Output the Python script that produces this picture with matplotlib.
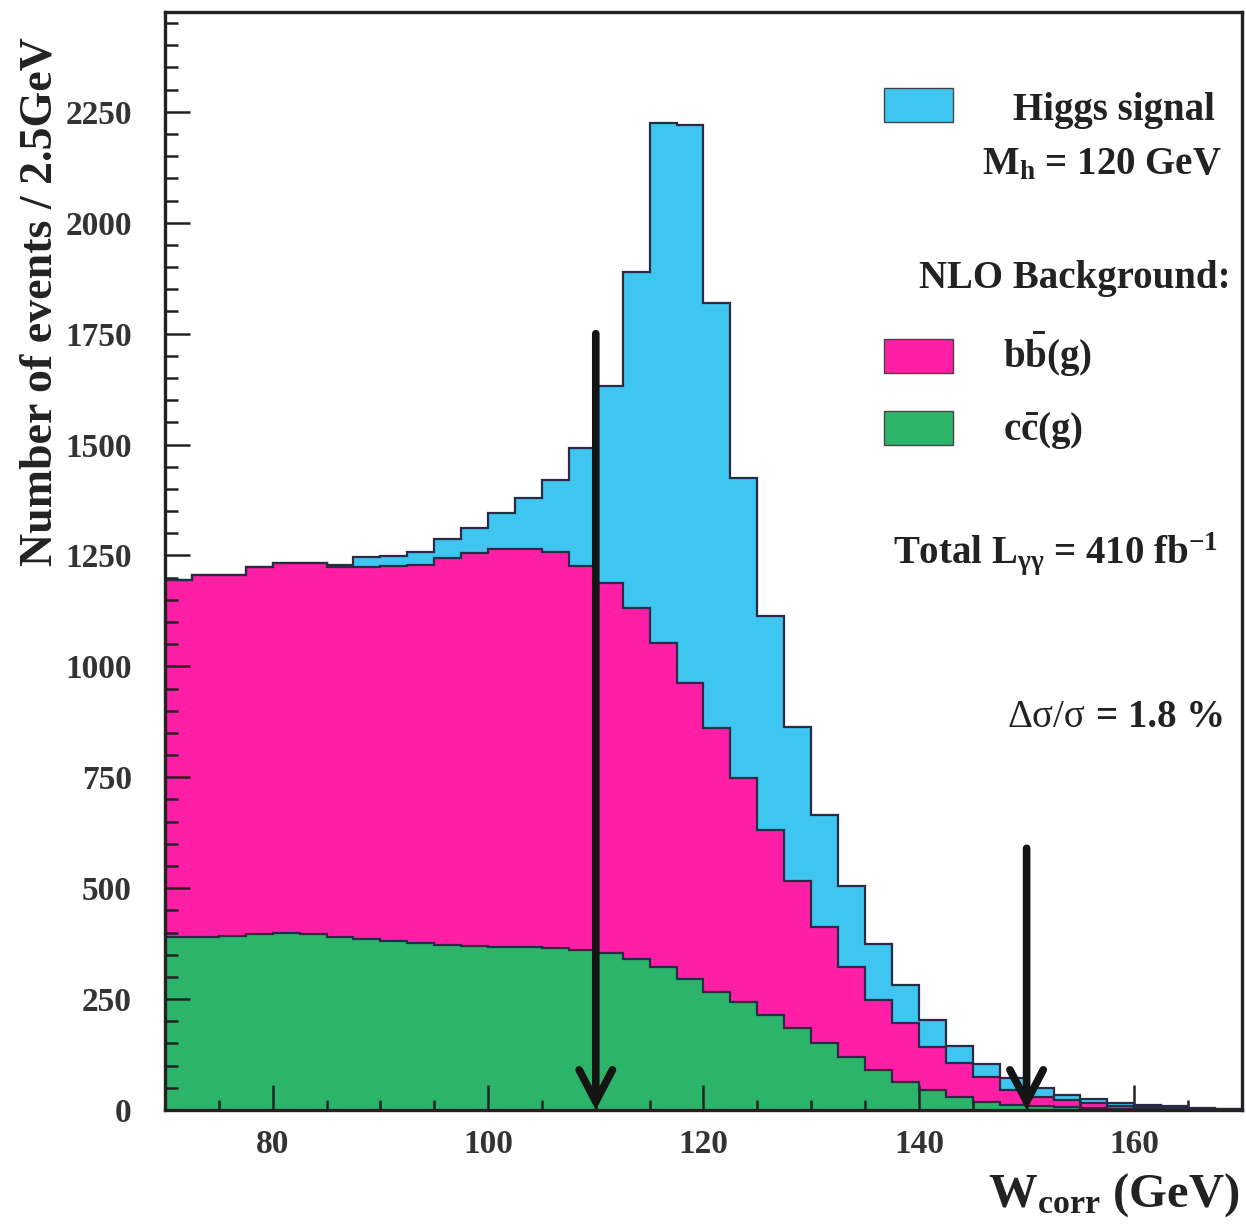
import matplotlib
matplotlib.use("Agg")
import matplotlib.pyplot as plt
import numpy as np
from matplotlib.patches import Rectangle
from matplotlib.ticker import MultipleLocator

plt.rcParams["font.family"] = ["Liberation Serif", "DejaVu Serif"]
plt.rcParams["font.weight"] = "bold"
plt.rcParams["mathtext.fontset"] = "custom"
plt.rcParams["mathtext.rm"] = "Liberation Serif:bold"
plt.rcParams["mathtext.it"] = "Liberation Serif:bold"
plt.rcParams["mathtext.bf"] = "Liberation Serif:bold"

# 2.5 GeV bins from 70 to 170 GeV
BIN_LOW = 70.0
BIN_WIDTH = 2.5

# events per bin for each process
cc_bkg = [390, 390, 392, 397, 399, 397, 390, 386, 380, 376,
          372, 370, 368, 367, 365, 360, 354, 340, 322, 295,
          266, 243, 214, 185, 151, 120, 90, 63, 45, 30,
          18, 11, 8, 6, 4, 3, 2, 1, 1, 1]
bb_bkg = [805, 816, 814, 827, 834, 836, 834, 838, 846, 853,
          872, 886, 897, 898, 893, 866, 834, 792, 731, 668,
          595, 505, 417, 332, 262, 202, 158, 133, 97, 76,
          57, 34, 22, 16, 11, 7, 5, 4, 2, 1]
higgs = [0, 0, 0, 0, 0, 0, 4, 23, 23, 29,
         43, 56, 81, 115, 162, 266, 444, 757, 1172, 1258,
         958, 677, 483, 346, 252, 183, 126, 86, 61, 38,
         29, 27, 20, 12, 9, 6, 4, 3, 2, 1]

# mass window cuts
cut_low, cut_low_top = 110, 1750
cut_high, cut_high_top = 150, 590

BLUE = "#3ec6f0"
PINK = "#ff1fa6"
GREEN = "#2db46b"
EDGE = "#2a2a45"

cc = np.array(cc_bkg, dtype=float)
bb = np.array(bb_bkg, dtype=float)
sig = np.array(higgs, dtype=float)
edges = BIN_LOW + BIN_WIDTH * np.arange(len(cc) + 1)
lvl1 = cc
lvl2 = cc + bb
lvl3 = cc + bb + sig

fig = plt.figure(figsize=(12.46, 12.26), dpi=100)
ax = fig.add_axes([0.1324, 0.0946, 0.8644, 0.8956])

ax.stairs(lvl1, edges, baseline=0, fill=True, color=GREEN, zorder=1)
ax.stairs(lvl2, edges, baseline=lvl1, fill=True, color=PINK, zorder=1)
ax.stairs(lvl3, edges, baseline=lvl2, fill=True, color=BLUE, zorder=1)
for lvl in (lvl1, lvl2, lvl3):
    ax.stairs(lvl, edges, baseline=None, color=EDGE, lw=1.6, zorder=2)

for xc, ytop in ((cut_low, cut_low_top), (cut_high, cut_high_top)):
    ax.annotate("", xy=(xc, 0), xytext=(xc, ytop),
                arrowprops=dict(arrowstyle="->,head_length=1.15,head_width=0.6",
                                lw=5.5, color="#141414", shrinkA=0, shrinkB=0,
                                mutation_scale=20, joinstyle="miter"),
                zorder=4)

ax.set_xlim(70, 170)
ax.set_ylim(0, 2475)
ax.xaxis.set_major_locator(MultipleLocator(20))
ax.xaxis.set_minor_locator(MultipleLocator(5))
ax.yaxis.set_major_locator(MultipleLocator(250))
ax.yaxis.set_minor_locator(MultipleLocator(50))
ax.tick_params(which="both", direction="in", top=False, right=False, width=1.8, color="#222")
ax.tick_params(which="major", length=18)
ax.tick_params(which="minor", length=9)
ax.tick_params(axis="x", which="minor", length=7)
ax.tick_params(axis="y", which="major", pad=24, labelsize=24)
ax.tick_params(axis="x", which="major", pad=14, labelsize=24)
for lab in ax.get_xticklabels() + ax.get_yticklabels():
    lab.set_fontweight("bold")
    lab.set_color("#333")
for sp in ax.spines.values():
    sp.set_linewidth(2.4)
    sp.set_color("#222")
    sp.set_zorder(5)

ax.text(-0.116, 0.736, "Number of events / 2.5GeV", transform=ax.transAxes,
        rotation=90, ha="center", va="center", fontsize=33, fontweight="bold",
        color="#222")
ax.text(0.998, -0.088, r"W$_{\mathrm{corr}}$ (GeV)", transform=ax.transAxes,
        ha="right", va="baseline", fontsize=35, fontweight="bold", color="#222")

# legend boxes and annotations
for yb, col in ((0.8998, BLUE), (0.6712, PINK), (0.6056, GREEN)):
    ax.add_patch(Rectangle((0.6676, yb), 0.064, 0.031, transform=ax.transAxes,
                           facecolor=col, edgecolor="#444", lw=1.0, zorder=6))

tkw = dict(transform=ax.transAxes, fontsize=28, fontweight="bold", color="#222",
           va="baseline", zorder=6)
ax.text(0.975, 0.902, "Higgs signal", ha="right", **tkw)
ax.text(0.981, 0.852, r"M$_{\mathrm{h}}$ = 120 GeV", ha="right", **tkw)
ax.text(0.989, 0.749, "NLO Background:", ha="right", **tkw)
ax.text(0.778, 0.676, r"b$\bar{\mathrm{b}}$(g)", ha="left", **tkw)
ax.text(0.778, 0.610, r"c$\bar{\mathrm{c}}$(g)", ha="left", **tkw)
ax.text(0.978, 0.498, r"Total L$_{\mathrm{\gamma\gamma}}$ = 410 fb$^{\mathrm{-1}}$",
        ha="right", **tkw)
ax.text(0.984, 0.349, "= 1.8 %", ha="right", **tkw)
ax.text(0.854, 0.349, "Δσ/σ", ha="right", transform=ax.transAxes, fontsize=28,
        fontweight="normal", color="#222", va="baseline", zorder=6)

fig.savefig("out.png", dpi=100)
